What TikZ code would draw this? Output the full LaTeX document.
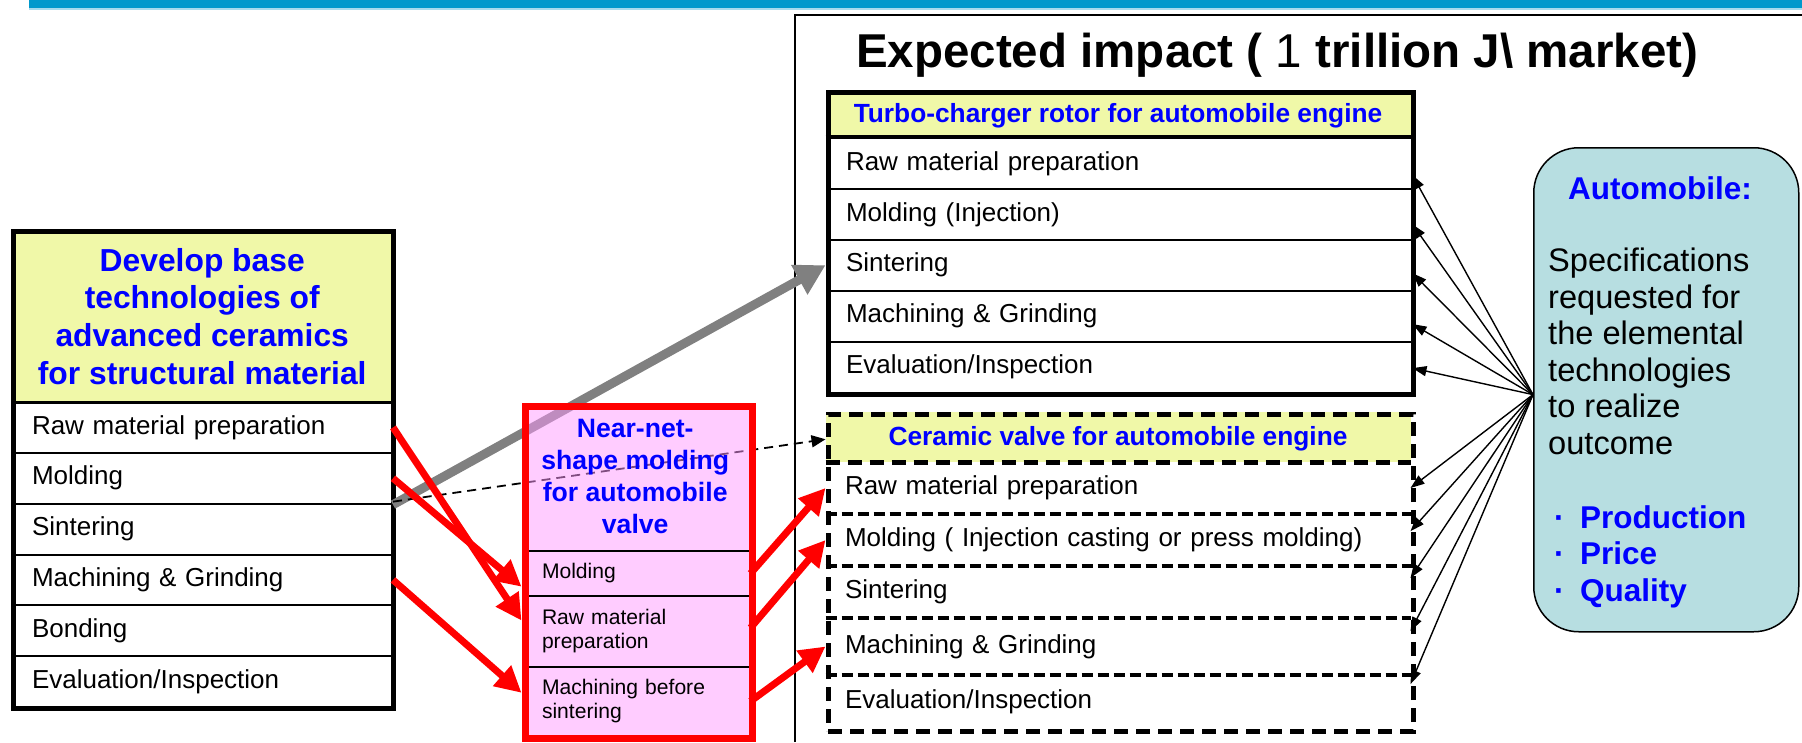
\documentclass[tikz,border=0pt]{standalone}
\usepackage{fontspec}
\setmainfont{Liberation Sans}
\usetikzlibrary{arrows.meta,calc}

\definecolor{barblue}{RGB}{0,153,204}
\definecolor{hdryellow}{RGB}{240,248,168}
\definecolor{pinkfill}{RGB}{255,153,255}
\definecolor{autofill}{RGB}{183,222,225}
\definecolor{arrowgray}{RGB}{128,128,128}
\definecolor{txtblue}{RGB}{0,0,255}

\begin{document}
\begin{tikzpicture}[x=1pt,y=-1pt,
  % left column: base technologies
  lhead/.style={draw, line width=2.5pt, fill=hdryellow, anchor=north west, inner sep=0pt,
    minimum width=380pt, minimum height=172pt, align=center, text=txtblue,
    font=\bfseries\fontsize{31.8}{37.7}\selectfont},
  lrow/.style={draw, line width=2pt, anchor=north west, inner xsep=20pt, inner ysep=0pt,
    minimum width=380pt, minimum height=50.83pt, text width=340pt, align=left,
    font=\fontsize{26}{31}\selectfont},
  % middle column: near-net-shape molding
  phead/.style={anchor=north west, inner sep=0pt, minimum width=227pt, minimum height=147.5pt,
    align=center, text=txtblue, font=\bfseries\fontsize{26.6}{32}\selectfont},
  prow/.style={draw, line width=2pt, anchor=north west, inner xsep=19.5pt, inner ysep=0pt,
    minimum width=227pt, text width=188pt, align=left,
    font=\fontsize{21.1}{24}\selectfont},
  % right column: application boxes
  thead/.style={fill=hdryellow, anchor=north west, inner sep=0pt, outer sep=0pt,
    minimum width=585pt, text height=19pt, text depth=1pt, text=txtblue,
    font=\bfseries\fontsize{26.3}{31}\selectfont},
  trow/.style={anchor=north west, inner xsep=19.5pt, inner ysep=0pt,
    minimum width=585pt, text width=546pt, align=left,
    font=\fontsize{26}{31}\selectfont},
  csep/.style={line width=3.2pt, dash pattern=on 11pt off 5pt},
  cthick/.style={line width=5pt, dash pattern=on 14pt off 8pt},
  redarrow/.style={draw=red, line width=7pt, -{Triangle[length=26pt,width=26pt]}},
  grayarrow/.style={draw=arrowgray, line width=9pt, -{Triangle[length=30pt,width=32pt]}},
  dasharrow/.style={line width=1.8pt, dash pattern=on 9pt off 6pt, -{Triangle[length=14pt,width=12pt]}},
  specarrow/.style={line width=1.4pt, -{Triangle[length=14pt,width=10pt]}},
]
\useasboundingbox (0,0) rectangle (1802,742);

% header band and impact frame
\fill[barblue] (29,0) rectangle (1802,8);
\fill[barblue!35] (29,8) rectangle (1802,10);
\draw[line width=1.8pt] (795,742) -- (795,15) -- (1802,15);
\node[anchor=base west, inner sep=0pt, font=\bfseries\fontsize{47.5}{54}\selectfont] (Title)
  at (856,67) {Expected impact ( {\mdseries 1} trillion J\textbackslash\ market)};

% ---------- base technologies ----------
\node[lhead] (LH) at (11,229) {Develop base\\technologies of\\advanced ceramics\\for structural material};
\node[lrow] (L1) at (11,401.00) {Raw material preparation};
\node[lrow] (L2) at (11,451.83) {Molding};
\node[lrow] (L3) at (11,502.67) {Sintering};
\node[lrow] (L4) at (11,553.50) {Machining \& Grinding};
\node[lrow] (L5) at (11,604.33) {Bonding};
\node[lrow] (L6) at (11,655.17) {Evaluation/Inspection};
\node[draw, line width=4.5pt, anchor=north west, inner sep=0pt,
  minimum width=380pt, minimum height=477pt] (Lbox) at (11,229) {};

% ---------- turbo-charger rotor ----------
\node[thead, minimum height=47.5pt] (TH) at (825.5,89.5) {Turbo-charger rotor for automobile engine};
\draw[line width=4pt] (TH.south west) -- (TH.south east);
\node[trow, draw, line width=2pt, minimum height=50.9pt] (T1) at (825.5,137.0) {Raw material preparation};
\node[trow, draw, line width=2pt, minimum height=50.9pt] (T2) at (825.5,187.9) {Molding (Injection)};
\node[trow, draw, line width=2pt, minimum height=50.9pt] (T3) at (825.5,238.8) {Sintering};
\node[trow, draw, line width=2pt, minimum height=50.9pt] (T4) at (825.5,289.7) {Machining \& Grinding};
\node[trow, draw, line width=2pt, minimum height=50.9pt] (T5) at (825.5,340.6) {Evaluation/Inspection};
\node[draw, line width=5pt, anchor=north west, inner sep=0pt,
  minimum width=585pt, minimum height=302pt] (Tbox) at (825.5,89.5) {};

% ---------- ceramic valve ----------
\node[thead, minimum height=50.5pt] (CH) at (825.5,411.5) {Ceramic valve for automobile engine};
\node[trow, outer sep=0pt, minimum height=52pt]   (C1) at (825.5,462) {Raw material preparation};
\node[trow, outer sep=0pt, minimum height=52pt]   (C2) at (825.5,514) {Molding ( Injection casting or press molding)};
\node[trow, outer sep=0pt, minimum height=52pt]   (C3) at (825.5,566) {Sintering};
\node[trow, outer sep=0pt, minimum height=57pt]   (C4) at (825.5,618) {Machining \& Grinding};
\node[trow, outer sep=0pt, minimum height=53.5pt] (C5) at (825.5,675) {Evaluation/Inspection};
\draw[cthick] (CH.south west) -- (CH.south east);
\draw[csep] (C1.south west) -- (C1.south east);
\draw[csep] (C2.south west) -- (C2.south east);
\draw[csep] (C3.south west) -- (C3.south east);
\draw[csep] (C4.south west) -- (C4.south east);
\node[draw, cthick, anchor=north west, inner sep=0pt,
  minimum width=585pt, minimum height=317pt] (Cbox) at (825.5,411.5) {};

% ---------- automobile requirements ----------
\node[draw, line width=1.5pt, fill=autofill, rounded corners=45pt, anchor=north west, inner sep=0pt,
  minimum width=265pt, minimum height=484pt] (Auto) at (1533,147) {};
\node[anchor=base, inner sep=0pt, text=txtblue, font=\bfseries\fontsize{31.5}{36}\selectfont]
  (AutoT) at (1660,199) {Automobile:};
\node[anchor=north west, inner sep=0pt, align=left, font=\fontsize{32.6}{36.5}\selectfont]
  (AutoB) at (1548,248) {Specifications\\requested for\\the elemental\\technologies\\to realize\\outcome};
\node[anchor=north west, inner sep=0pt, align=left, text=txtblue, font=\bfseries\fontsize{31.5}{36.5}\selectfont]
  (AutoL) at (1554,505) {\makebox[26pt][l]{\textperiodcentered}Production\\
    \makebox[26pt][l]{\textperiodcentered}Price\\\makebox[26pt][l]{\textperiodcentered}Quality};

% ---------- links running under the molding box ----------
\draw[grayarrow] (L2.south east) -- (T3.west);
\draw[dasharrow] ($(L2.south east)+(0,-3)$) -- ($(CH.north west)!0.55!(CH.south west)$);

% ---------- near-net-shape molding ----------
\node[fill=pinkfill, fill opacity=0.5, anchor=north west, inner sep=0pt,
  minimum width=227pt, minimum height=332pt] (Pbg) at (521.5,402.5) {};
\node[phead] (PH) at (521.5,402.5) {Near-net-\\shape molding\\for automobile\\valve};
\node[prow, minimum height=45pt]   (P1) at (521.5,550) {Molding};
\node[prow, minimum height=71pt]   (P2) at (521.5,595) {Raw material\\preparation};
\node[prow, minimum height=68.5pt] (P3) at (521.5,666) {Machining before\\sintering};
\node[draw=red, line width=7pt, anchor=north west, inner sep=0pt,
  minimum width=227pt, minimum height=332pt] (Pbox) at (521.5,402.5) {};

% ---------- technology transfer arrows ----------
\draw[redarrow] (L1.east) -- ($(P2.north west)!0.35!(P2.south west)$);
\draw[redarrow] (L2.east) -- ($(P1.north west)!0.78!(P1.south west)$);
\draw[redarrow] (L4.east) -- ($(P3.north west)!0.38!(P3.south west)$);
\draw[redarrow] (P1.east) -- (C1.west);
\draw[redarrow] ($(P2.north east)!0.45!(P2.south east)$) -- (C2.west);
\draw[redarrow] (P3.east) -- ($(C4.north west)!0.5!(C4.south west)$);

% ---------- requirement arrows ----------
\coordinate (hub) at ($(Auto.north west)!0.51!(Auto.south west)$);
\draw[specarrow] (hub) -- ($(T1.north east)!0.72!(T1.south east)$);
\draw[specarrow] (hub) -- ($(T2.north east)!0.69!(T2.south east)$);
\draw[specarrow] (hub) -- ($(T3.north east)!0.65!(T3.south east)$);
\draw[specarrow] (hub) -- ($(T4.north east)!0.65!(T4.south east)$);
\draw[specarrow] (hub) -- ($(T5.north east)!0.52!(T5.south east)$);
\draw[specarrow] (hub) -- ($(C1.north east)!0.50!(C1.south east)$);
\draw[specarrow] (hub) -- ($(C2.north east)!0.33!(C2.south east)$);
\draw[specarrow] (hub) -- ($(C3.north east)!0.23!(C3.south east)$);
\draw[specarrow] (hub) -- ($(C4.north east)!0.23!(C4.south east)$);
\draw[specarrow] (hub) -- ($(C5.north east)!0.17!(C5.south east)$);
\end{tikzpicture}
\end{document}
